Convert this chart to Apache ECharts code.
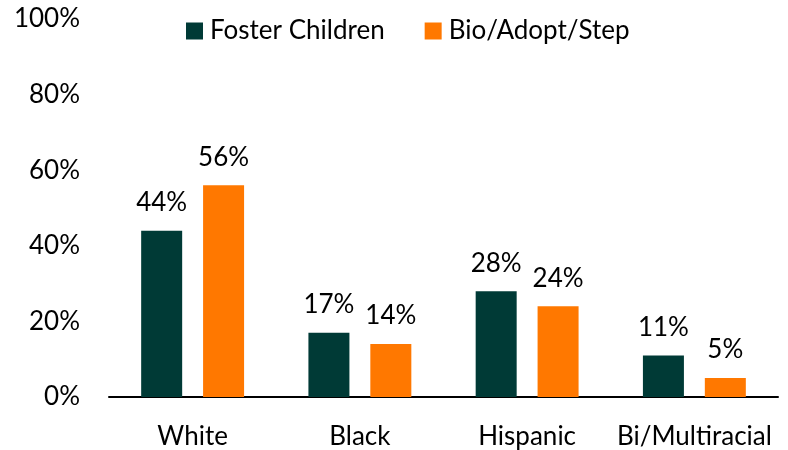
<!DOCTYPE html>
<html><head><meta charset="utf-8">
<script src="https://cdn.jsdelivr.net/npm/echarts@6/dist/echarts.min.js"></script>
<style>html,body{margin:0;padding:0;background:#fff}#c{width:788px;height:450px}</style>
</head><body><div id="c"></div>
<script>
const categories = ['White', 'Black', 'Hispanic', 'Bi/Multiracial'];
const fosterChildren = [44, 17, 28, 11];
const bioAdoptStep = [56, 14, 24, 5];
const seriesNames = ['Foster Children', 'Bio/Adopt/Step'];
const FONT = 'Lato';
const FS = 26;
const chart = echarts.init(document.getElementById('c'), null, {renderer: 'canvas'});
const lbl = {show: true, position: 'top', distance: 15, formatter: p => p.value + '%', color: '#000', fontSize: FS, fontFamily: FONT};
chart.setOption({
  animation: false,
  textStyle: {fontFamily: FONT},
  legend: {
    top: 13, left: 181, itemWidth: 17, itemHeight: 17, itemGap: 40,
    textStyle: {fontSize: FS, fontFamily: FONT, color: '#000', padding: [0, 0, 0, 2]},
    data: seriesNames, icon: 'rect'
  },
  grid: {left: 109, right: 10, top: 19, bottom: 53, containLabel: false},
  xAxis: {
    type: 'category', data: categories,
    axisLine: {lineStyle: {color: '#000', width: 2}},
    axisTick: {show: false},
    axisLabel: {fontSize: FS, fontFamily: FONT, color: '#000', margin: 27, interval: 0}
  },
  yAxis: {
    type: 'value', min: 0, max: 100, interval: 20,
    axisLabel: {formatter: '{value}%', fontSize: FS, fontFamily: FONT, color: '#000', margin: 29},
    splitLine: {show: false}, axisLine: {show: false}, axisTick: {show: false}
  },
  series: [
    {name: seriesNames[0], type: 'bar', data: fosterChildren, itemStyle: {color: '#003A36'}, barWidth: 41, barGap: '51%', label: lbl},
    {name: seriesNames[1], type: 'bar', data: bioAdoptStep, itemStyle: {color: '#FF7800'}, barWidth: 41, label: lbl}
  ]
});
</script></body></html>
